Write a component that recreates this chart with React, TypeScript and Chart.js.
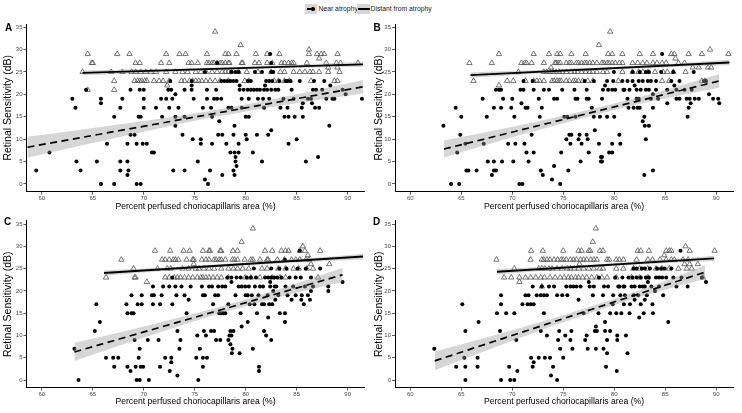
import React, { useEffect, useRef } from "react";
import { Chart, registerables } from "chart.js";
Chart.register(...registerables);

const FONT = "'Liberation Sans', Arial, sans-serif";

const xTickValues = [60, 65, 70, 75, 80, 85, 90];
const yTickValues = [0, 5, 10, 15, 20, 25, 30, 35];
const xRange = [58.5, 91.65];
const yRange = [-1.7, 35.7];

type Row = [number, number[]];
type Fit = { x: number[]; y: number[] };
type Band = { x: number[]; lo: number[]; hi: number[] };

// ---------- Panel A ----------
const nearA: Row[] = [
  [0, [65.8, 67.1, 69.3, 69.7, 76.3]],
  [1, [76.0]],
  [2, [68.4, 77.7, 78.9]],
  [3, [59.45, 63.8, 67.7, 68.5, 72.9, 74.0, 76.5, 78.8]],
  [4, [79.1]],
  [5, [63.4, 65.4, 67.7, 68.4, 75.3, 79.0, 81.6, 85.9]],
  [6, [79.0, 87.1]],
  [7, [60.75, 70.8, 71.0, 78.5, 78.9, 79.3, 80.7]],
  [9, [66.4, 68.4, 69.3, 69.9, 70.3, 75.6, 76.7, 78.1, 79.3, 84.2]],
  [10, [74.8, 75.6, 80.1, 85.0]],
  [11, [68.7, 69.1, 73.8, 77.3, 77.7, 78.8, 80.0, 81.1, 82.2]],
  [12, [82.5]],
  [13, [73.1, 78.9, 88.2]],
  [14, [77.4]],
  [15, [67.1, 69.5, 69.7, 71.8, 73.1, 74.0, 76.7, 80.0, 80.3, 83.8, 84.2, 84.8, 85.6]],
  [17, [63.3, 67.7, 70.0, 71.2, 72.5, 73.4, 75.8, 76.6, 78.3, 78.6, 79.6, 81.8, 83.4, 84.1, 85.5, 86.8, 87.2]],
  [18, [65.8, 85.6, 86.5]],
  [19, [63.0, 65.8, 67.9, 70.0, 71.7, 72.2, 72.8, 74.9, 76.2, 76.9, 77.2, 77.6, 79.6, 80.3, 81.2, 81.7, 82.3, 83.7, 84.7, 86.1, 86.4, 87.9, 88.5, 88.7, 91.4]],
  [20, [73.1, 89.8]],
  [21, [64.35, 68.7, 69.6, 70.0, 72.4, 72.7, 74.0, 74.7, 76.2, 77.1, 79.4, 79.8, 80.2, 80.5, 80.8, 81.1, 81.4, 81.8, 82.1, 82.5, 82.9, 83.2, 84.5, 86.6, 86.9, 87.5, 89.5]],
  [22, [74.7, 79.4, 81.9, 88.3]],
  [23, [72.6, 74.7, 77.6, 77.9, 78.2, 78.5, 78.8, 79.1, 80.2, 80.5, 82.0, 82.3, 82.6, 83.3, 83.9, 84.1, 84.4, 85.3, 86.7, 87.7]],
  [25, [76.0, 78.6, 79.0, 79.3, 80.9, 81.6, 82.5, 82.7]],
  [27, [77.2, 82.5]],
  [29, [82.4]],
];
const distantA: Row[] = [
  [34, [77.0]],
  [31, [79.5]],
  [30, [86.2]],
  [29, [64.5, 67.4, 68.6, 72.2, 73.5, 74.1, 76.2, 78.0, 78.3, 79.1, 81.0, 82.1, 83.3, 86.2, 87.0, 87.4, 87.7, 89.0]],
  [28, [87.2]],
  [27, [64.9, 65.0, 69.2, 69.6, 71.7, 72.5, 74.4, 74.7, 75.3, 76.2, 76.4, 76.7, 76.9, 77.2, 77.5, 77.7, 78.0, 78.3, 78.4, 79.6, 79.7, 80.9, 81.3, 82.1, 82.6, 83.5, 83.8, 84.2, 84.5, 84.7, 86.0, 87.9, 88.9, 89.3, 91.0]],
  [26, [88.1, 89.0]],
  [25, [64.0, 66.8, 67.9, 68.8, 69.2, 69.7, 70.2, 70.7, 71.2, 72.2, 73.1, 73.8, 74.3, 75.1, 75.6, 76.1, 76.7, 77.2, 77.7, 78.0, 78.3, 78.6, 79.3, 80.1, 81.2, 82.5, 83.4, 83.8, 84.7, 85.3, 85.8, 86.3, 86.6, 87.2, 88.1, 89.2]],
  [23, [67.1, 69.1, 69.4, 69.6, 69.8, 70.1, 70.3, 71.0, 71.5, 71.9, 72.5, 73.7, 74.0, 74.5, 74.8, 75.1, 75.4, 75.7, 76.1, 76.5, 77.0, 77.5, 78.3, 79.9, 80.3, 82.8, 83.2, 83.8, 84.3, 86.4, 88.7, 89.0]],
  [22, [72.3]],
  [21, [64.5, 67.1]],
];
const nearFitA: Fit = { x: [58.6, 91.5], y: [8.2, 21.7] };
const nearBandA: Band = {
  x: [58.6, 64, 70, 76, 81, 86, 91.5],
  lo: [5.85, 8.66, 11.67, 14.53, 16.58, 18.38, 20.19],
  hi: [10.55, 12.16, 14.07, 16.13, 18.18, 20.48, 23.19],
};
const distantFitA: Fit = { x: [64.0, 91.5], y: [24.8, 26.7] };
const distantBandA: Band = {
  x: [64, 71, 78, 85, 91.5],
  lo: [24.25, 24.9, 25.47, 25.87, 26.15],
  hi: [25.35, 25.66, 26.07, 26.63, 27.25],
};

// ---------- Panel B ----------
const nearB: Row[] = [
  [0, [64.0, 64.8, 70.7, 71.0, 74.7]],
  [1, [73.9]],
  [2, [68.0, 73.0, 82.95]],
  [3, [65.5, 65.7, 66.5, 68.2, 68.4, 72.8, 75.5, 83.8]],
  [4, [74.1]],
  [5, [67.6, 68.2, 69.0, 70.1, 71.6, 76.7, 78.7, 78.8]],
  [6, [78.7, 78.8]],
  [7, [64.6, 71.4, 72.1, 74.8, 77.5, 79.5, 79.8]],
  [9, [65.4, 67.2, 69.6, 70.3, 71.2, 75.7, 76.8, 78.5, 79.8, 80.6]],
  [10, [75.3, 76.5, 77.4, 83.1]],
  [11, [64.9, 71.9, 75.6, 75.8, 76.6, 77.3, 80.5]],
  [12, [78.1]],
  [13, [63.25, 83.0, 83.4]],
  [14, [82.8]],
  [15, [65.0, 67.5, 70.2, 72.7, 75.1, 75.4, 76.2, 78.0, 78.6, 79.3, 80.0, 82.95, 87.2]],
  [17, [64.45, 68.2, 68.9, 69.9, 71.3, 71.5, 72.9, 77.8, 81.4, 81.9, 82.3, 82.5, 83.8, 87.3]],
  [18, [70.9, 85.2, 87.5, 90.3]],
  [19, [67.1, 69.1, 70.0, 72.6, 74.1, 74.4, 76.2, 76.4, 77.3, 77.5, 78.8, 81.3, 82.2, 82.4, 83.6, 84.3, 86.1, 86.4, 87.1, 87.4, 87.9, 88.3, 89.7, 90.2]],
  [20, [83.8, 89.3]],
  [21, [68.4, 68.7, 68.9, 70.8, 71.1, 72.1, 73.1, 73.6, 74.9, 76.1, 77.3, 78.9, 79.4, 79.8, 80.1, 80.9, 81.0, 81.5, 82.2, 82.6, 83.1, 83.4, 84.1, 85.2, 86.1, 86.9, 87.6]],
  [22, [79.1, 82.0, 85.9]],
  [23, [71.1, 72.0, 77.1, 78.0, 79.3, 79.9, 80.8, 81.3, 81.8, 82.4, 82.8, 83.3, 83.6, 84.1, 85.6, 86.4, 88.8, 89.0]],
  [25, [79.97, 81.8, 82.5, 83.1, 83.4, 84.6, 85.8, 87.8]],
  [29, [84.7]],
];
const distantB: Row[] = [
  [34, [79.6]],
  [31, [78.5]],
  [30, [89.4]],
  [29, [68.7, 72.1, 73.6, 74.4, 74.7, 75.8, 77.2, 79.4, 79.8, 80.8, 82.5, 83.8, 85.6, 85.9, 87.3, 88.6, 91.2]],
  [28, [86.0]],
  [27, [65.8, 68.0, 70.9, 71.2, 71.4, 71.9, 73.1, 74.2, 74.3, 74.5, 74.7, 75.3, 75.6, 75.8, 76.3, 76.5, 76.8, 77.1, 77.3, 77.6, 77.9, 78.3, 78.8, 79.0, 79.3, 79.5, 79.8, 80.1, 80.5, 80.8, 81.8, 82.3, 82.8, 83.2, 83.8, 84.2, 84.7, 85.1, 86.3, 86.9]],
  [26, [73.8, 87.7, 88.3, 89.2, 89.5]],
  [25, [70.6, 73.1, 73.4, 73.7, 74.0, 74.3, 74.6, 74.9, 75.3, 75.8, 76.1, 76.4, 76.8, 77.2, 77.6, 77.9, 78.3, 78.9, 79.3, 80.8, 81.8, 82.4, 82.8, 83.3, 84.0, 84.8, 85.2, 85.8, 87.0]],
  [23, [66.2, 69.5, 70.1, 71.3, 72.1, 72.4, 72.7, 73.1, 73.9, 74.1, 74.4, 74.6, 74.8, 75.3, 75.6, 76.0, 76.2, 76.5, 76.9, 77.4, 77.9, 80.4, 84.7, 85.4, 88.6, 88.9]],
  [22, [68.7]],
];
const nearFitB: Fit = { x: [63.3, 90.3], y: [7.8, 23.0] };
const nearBandB: Band = {
  x: [63.3, 68, 73, 78, 83, 87, 90.3],
  lo: [5.9, 9.1, 12.31, 15.33, 18.1, 20.0, 21.45],
  hi: [9.7, 11.8, 14.21, 16.83, 19.7, 22.3, 24.55],
};
const distantFitB: Fit = { x: [65.9, 91.3], y: [24.3, 27.1] };
const distantBandB: Band = {
  x: [65.9, 72, 79, 86, 91.3],
  lo: [23.7, 24.57, 25.44, 26.11, 26.5],
  hi: [24.9, 25.37, 26.04, 26.91, 27.7],
};

// ---------- Panel C ----------
const nearC: Row[] = [
  [0, [63.6, 69.3, 69.6, 70.5, 75.35]],
  [1, [73.3]],
  [2, [68.7, 72.55, 81.3]],
  [3, [67.1, 68.4, 69.2, 69.7, 69.95, 71.6, 75.8, 81.3]],
  [4, [72.7]],
  [5, [66.3, 67.0, 67.5, 69.5, 72.1, 72.7, 75.15, 75.8, 76.2]],
  [6, [78.65, 79.4]],
  [7, [63.2, 69.6, 73.5, 75.5, 78.7, 80.7]],
  [8, [78.5]],
  [9, [69.1, 70.4, 71.45, 73.6, 77.1, 77.5, 78.3, 82.5]],
  [10, [75.25, 76.1, 78.4, 78.6, 82.0]],
  [11, [65.2, 73.3, 75.9, 76.6, 76.9, 78.5, 78.8, 81.8]],
  [12, [79.6]],
  [13, [65.7, 80.2, 83.85]],
  [14, [82.2]],
  [15, [68.4, 68.8, 69.0, 74.2, 77.4, 77.6, 77.8, 78.0, 79.5, 81.1, 83.35, 83.85]],
  [17, [65.35, 68.3, 69.4, 69.8, 70.9, 71.6, 72.8, 76.8, 78.3, 80.4, 80.85, 81.6, 81.8, 82.3, 82.6, 85.7]],
  [18, [74.4, 82.9, 84.5, 85.45, 86.3]],
  [19, [68.8, 69.8, 70.8, 71.0, 71.75, 73.2, 74.0, 75.8, 76.0, 77.0, 77.3, 79.0, 80.0, 80.2, 80.6, 81.25, 82.15, 83.2, 84.1, 84.9, 85.5, 86.1]],
  [20, [82.7, 86.4, 88.1]],
  [21, [70.9, 71.9, 72.5, 73.1, 73.7, 74.6, 75.7, 76.4, 76.7, 77.3, 77.7, 78.0, 79.3, 79.6, 79.95, 80.3, 80.9, 81.4, 81.7, 82.4, 82.85, 83.0, 83.9, 84.65, 85.8, 86.6, 88.1]],
  [22, [78.6, 82.4, 89.5]],
  [23, [72.8, 78.2, 78.6, 79.1, 79.5, 80.1, 80.5, 81.0, 81.9, 82.2, 82.5, 82.8, 83.1, 83.5, 84.3, 84.9, 85.4, 86.4]],
  [25, [80.8, 82.5, 83.3, 84.0, 85.1, 85.9, 87.3]],
  [27, [83.85]],
  [29, [85.3]],
];
const distantC: Row[] = [
  [34, [80.7]],
  [31, [79.6]],
  [30, [85.6]],
  [29, [71.1, 72.6, 73.9, 74.5, 75.8, 76.4, 76.5, 77.5, 77.6, 78.75, 79.2, 81.9, 82.6, 83.5, 83.9, 84.2, 85.3, 85.8, 87.3]],
  [28, [86.1]],
  [27, [67.8, 71.8, 72.1, 72.5, 72.9, 73.1, 73.4, 74.2, 74.8, 74.9, 75.7, 76.1, 76.4, 76.9, 77.1, 77.4, 77.6, 78.0, 78.7, 78.9, 79.2, 79.9, 80.5, 80.7, 81.4, 82.1, 82.2, 83.1, 83.8, 84.5, 84.9, 85.3, 85.9, 86.2]],
  [26, [74.9, 86.4, 88.2]],
  [25, [69.0, 71.35, 72.3, 72.65, 73.8, 74.4, 75.1, 75.4, 75.9, 76.4, 76.9, 77.6, 78.3, 78.8, 79.2, 79.7, 80.3, 81.6, 82.1, 83.2, 83.9, 84.7, 85.2, 86.0, 86.6]],
  [23, [66.3, 69.1, 69.2, 72.1, 72.5, 73.0, 73.3, 73.6, 74.0, 74.4, 74.8, 75.25, 75.6, 75.8, 76.1, 76.4, 76.8, 77.2, 77.6, 78.3, 79.95, 80.5, 81.4, 82.6, 83.35, 83.9, 87.1]],
  [22, [70.3]],
];
const nearFitC: Fit = { x: [63.2, 89.5], y: [6.3, 23.6] };
const nearBandC: Band = {
  x: [63.2, 68, 73, 78, 83, 86.5, 89.5],
  lo: [4.25, 8.01, 11.75, 15.29, 18.48, 20.43, 22.0],
  hi: [8.35, 10.91, 13.75, 16.79, 20.18, 22.83, 25.2],
};
const distantFitC: Fit = { x: [66.1, 91.5], y: [24.0, 27.7] };
const distantBandC: Band = {
  x: [66.1, 72, 79, 86, 91.5],
  lo: [23.4, 24.46, 25.58, 26.5, 27.05],
  hi: [24.6, 25.26, 26.18, 27.3, 28.35],
};

// ---------- Panel D ----------
const nearD: Row[] = [
  [0, [65.4, 68.9, 69.8, 70.2, 74.4]],
  [1, [73.8]],
  [2, [70.5, 80.25]],
  [3, [64.5, 65.4, 66.6, 69.7, 72.0, 74.0, 79.2]],
  [4, [72.1]],
  [5, [65.3, 66.6, 71.85, 72.6, 73.2, 73.7, 75.0]],
  [6, [79.3, 81.3]],
  [7, [62.35, 74.7, 75.9, 77.4, 78.2, 78.95]],
  [9, [70.4, 74.5, 75.7, 77.15, 79.3, 80.3]],
  [10, [73.4, 75.2, 77.3, 80.3, 81.15]],
  [11, [65.4, 68.8, 72.8, 74.6, 75.8, 78.1, 78.3, 79.1, 79.6]],
  [12, [78.2]],
  [13, [66.7, 79.1, 85.3]],
  [14, [82.45]],
  [15, [68.5, 69.4, 70.2, 73.1, 77.0, 78.45, 79.6, 80.2, 80.7, 81.5, 82.9, 83.8]],
  [17, [65.1, 68.9, 71.0, 71.5, 71.8, 72.1, 79.85, 80.95, 81.55, 82.6, 83.75]],
  [18, [76.5, 82.0, 83.0]],
  [19, [68.9, 71.3, 71.6, 72.4, 72.8, 73.1, 73.4, 74.4, 74.9, 75.4, 77.9, 78.9, 79.9, 80.6, 81.05, 81.9, 82.35, 83.2, 84.8]],
  [20, [84.0]],
  [21, [72.0, 72.9, 73.6, 74.1, 75.3, 75.7, 76.0, 76.3, 76.7, 77.6, 78.0, 79.0, 79.4, 80.4, 80.5, 80.9, 81.0, 81.7, 82.0, 82.5, 82.8, 83.0, 83.65, 84.4, 86.1, 87.2]],
  [22, [77.5, 83.3, 89.0]],
  [23, [78.5, 80.1, 80.8, 81.4, 81.8, 82.2, 82.6, 83.1, 83.4, 84.1, 84.4, 84.7, 85.1, 85.8, 86.6, 88.6]],
  [25, [81.9, 82.2, 82.7, 83.0, 83.5, 84.2, 84.6, 84.95, 85.6]],
  [29, [86.5]],
];
const distantD: Row[] = [
  [34, [78.2]],
  [31, [77.9]],
  [30, [87.0]],
  [29, [71.85, 73.0, 75.0, 76.5, 76.8, 77.5, 77.65, 78.6, 78.9, 82.3, 82.6, 83.4, 85.1, 85.4, 85.6, 87.4, 89.85]],
  [28, [84.9]],
  [27, [68.45, 71.8, 72.9, 73.1, 73.4, 73.7, 74.1, 74.45, 74.8, 75.0, 75.3, 75.7, 76.0, 76.3, 76.7, 77.0, 77.3, 77.7, 78.0, 78.3, 79.3, 79.5, 80.2, 80.5, 80.9, 82.2, 83.3, 83.75, 84.5, 85.1, 85.6, 85.9, 86.75, 87.25]],
  [26, [76.6, 86.9, 87.4, 88.2]],
  [25, [70.2, 72.6, 72.9, 73.2, 73.6, 73.9, 74.4, 74.9, 75.4, 75.7, 76.1, 76.5, 77.0, 77.5, 78.0, 78.6, 78.9, 80.2, 80.9, 81.9, 82.5, 83.3, 84.1, 84.7, 85.4, 86.3, 87.1, 87.6]],
  [23, [69.2, 69.9, 70.7, 71.3, 71.8, 72.3, 72.8, 73.15, 73.7, 74.2, 74.7, 75.1, 75.5, 75.8, 76.2, 76.5, 76.9, 77.3, 77.8, 78.3, 78.8, 79.3, 80.2, 81.7, 82.5, 83.3, 88.7]],
  [22, [70.7]],
  [21, [72.9]],
];
const nearFitD: Fit = { x: [62.4, 88.9], y: [4.3, 24.2] };
const nearBandD: Band = {
  x: [62.4, 67, 72, 77, 82, 86, 88.9],
  lo: [2.2, 6.25, 10.51, 14.51, 18.27, 20.92, 22.65],
  hi: [6.4, 9.25, 12.51, 16.01, 19.77, 23.12, 25.75],
};
const distantFitD: Fit = { x: [68.5, 89.8], y: [24.3, 27.3] };
const distantBandD: Band = {
  x: [68.5, 74, 79, 85, 89.8],
  lo: [23.7, 24.67, 25.48, 26.22, 26.7],
  hi: [24.9, 25.47, 26.08, 27.02, 27.9],
};

const rowsToPts = (rows: Row[]) => rows.flatMap(([y, xs]) => xs.map((x) => ({ x, y })));
const fitPts = (f: Fit) => f.x.map((x, i) => ({ x, y: f.y[i] }));
const bandPts = (b: Band, key: "lo" | "hi") => b.x.map((x, i) => ({ x, y: b[key][i] }));

const BAND_FILL = "rgba(153,153,153,0.4)";

type Box = { left: number; top: number; width: number; height: number };
type Area = { left: number; right: number; top: number; bottom: number };

interface PanelProps {
  near: Row[];
  distant: Row[];
  nearFit: Fit;
  nearBand: Band;
  distantFit: Fit;
  distantBand: Band;
  box: Box;
  area: Area;
  titleCenterY: number;
}

function Panel(p: PanelProps) {
  const ref = useRef<HTMLCanvasElement | null>(null);
  useEffect(() => {
    const canvas = ref.current;
    if (!canvas) return;
    const { box, area } = p;
    const yWidth = area.left - box.left;
    const xHeight = box.top + box.height - area.bottom;
    const xTitleSize = 8.6;
    const xTitlePadBottom = box.top + box.height - p.titleCenterY - (xTitleSize * 1.2) / 2;
    const bandLine = {
      type: "line" as const,
      showLine: true,
      pointRadius: 0,
      borderWidth: 0,
      borderColor: "rgba(0,0,0,0)",
      cubicInterpolationMode: "monotone" as const,
      order: 1,
    };
    const chart = new Chart(canvas, {
      type: "scatter",
      data: {
        datasets: [
          {
            type: "line",
            label: "Near atrophy fit",
            data: fitPts(p.nearFit),
            showLine: true,
            borderColor: "#000",
            borderWidth: 1.7,
            borderDash: [7, 4.5],
            pointRadius: 0,
            fill: false,
            order: 0,
          },
          {
            type: "line",
            label: "Distant fit",
            data: fitPts(p.distantFit),
            showLine: true,
            borderColor: "#000",
            borderWidth: 1.9,
            pointRadius: 0,
            fill: false,
            order: 0,
          },
          { ...bandLine, label: "nlo", data: bandPts(p.nearBand, "lo"), fill: false },
          { ...bandLine, label: "nhi", data: bandPts(p.nearBand, "hi"), fill: "-1", backgroundColor: BAND_FILL },
          { ...bandLine, label: "dlo", data: bandPts(p.distantBand, "lo"), fill: false },
          { ...bandLine, label: "dhi", data: bandPts(p.distantBand, "hi"), fill: "-1", backgroundColor: BAND_FILL },
          {
            type: "scatter",
            label: "Near atrophy",
            data: rowsToPts(p.near),
            pointRadius: 2,
            pointBackgroundColor: "#000",
            pointBorderWidth: 0,
            pointBorderColor: "#000",
            order: 2,
          },
          {
            type: "scatter",
            label: "Distant from atrophy",
            data: rowsToPts(p.distant),
            pointStyle: "triangle",
            pointRadius: 3.1,
            pointBackgroundColor: "rgba(0,0,0,0)",
            pointBorderColor: "#555",
            pointBorderWidth: 0.8,
            order: 3,
          },
        ] as any,
      },
      options: {
        responsive: false,
        animation: false,
        devicePixelRatio: 1,
        events: [],
        layout: {
          padding: {
            left: 0,
            top: area.top - box.top,
            right: box.left + box.width - area.right,
            bottom: 0,
          },
        },
        plugins: { legend: { display: false }, tooltip: { enabled: false } },
        scales: {
          x: {
            type: "linear",
            min: xRange[0],
            max: xRange[1],
            afterBuildTicks: (s: any) => {
              s.ticks = xTickValues.map((v) => ({ value: v }));
            },
            afterFit: (s: any) => {
              s.height = xHeight;
            },
            grid: { drawOnChartArea: false, drawTicks: true, tickLength: 3, color: "#333", lineWidth: 0.8 },
            border: { display: true, color: "#000", width: 1 },
            ticks: { font: { family: FONT, size: 6 }, color: "#4d4d4d", padding: 0, maxRotation: 0 },
            title: {
              display: true,
              text: "Percent perfused choriocapillaris area (%)",
              font: { family: FONT, size: xTitleSize },
              color: "#000",
              padding: { top: 0, bottom: xTitlePadBottom },
            },
          },
          y: {
            type: "linear",
            min: yRange[0],
            max: yRange[1],
            afterBuildTicks: (s: any) => {
              s.ticks = yTickValues.map((v) => ({ value: v }));
            },
            afterFit: (s: any) => {
              s.width = yWidth;
            },
            grid: { drawOnChartArea: false, drawTicks: true, tickLength: 3, color: "#333", lineWidth: 0.8 },
            border: { display: true, color: "#000", width: 1 },
            ticks: { font: { family: FONT, size: 6 }, color: "#4d4d4d", padding: 1 },
            title: {
              display: true,
              text: "Retinal Sensitivity (dB)",
              font: { family: FONT, size: 10.5 },
              color: "#000",
              padding: { top: 1.5, bottom: 0 },
            },
          },
        },
      } as any,
    });
    return () => chart.destroy();
  }, []);
  const { box } = p;
  return (
    <canvas
      ref={ref}
      width={box.width}
      height={box.height}
      style={{ position: "absolute", left: box.left, top: box.top, width: box.width, height: box.height }}
    />
  );
}

const labelStyle = (left: number, top: number): React.CSSProperties => ({
  position: "absolute",
  left,
  top,
  fontFamily: FONT,
  fontWeight: "bold",
  fontSize: 10,
  lineHeight: "10px",
  color: "#000",
});

const legendText = (left: number): React.CSSProperties => ({
  position: "absolute",
  left,
  top: 4,
  fontFamily: FONT,
  fontSize: 6.8,
  lineHeight: "10px",
  color: "#1a1a1a",
  whiteSpace: "nowrap",
});

export default function App() {
  return (
    <div
      style={{
        position: "fixed",
        left: 0,
        top: 0,
        width: 742,
        height: 413,
        background: "#fff",
        overflow: "hidden",
      }}
    >
      {/* legend */}
      <div style={{ position: "absolute", left: 305, top: 4, width: 12, height: 10, background: "#d6d6d6" }}>
        <div style={{ position: "absolute", left: 1.5, top: 4.2, width: 4, height: 1.6, background: "#000" }} />
        <div style={{ position: "absolute", left: 6, top: 3.2, width: 3.6, height: 3.6, borderRadius: "50%", background: "#000" }} />
      </div>
      <div style={legendText(318.5)}>Near atrophy</div>
      <div style={{ position: "absolute", left: 357, top: 4, width: 13, height: 10, background: "#d6d6d6" }}>
        <div style={{ position: "absolute", left: 0.5, top: 4.1, width: 12, height: 1.8, background: "#000" }} />
      </div>
      <div style={legendText(370.5)}>Distant from atrophy</div>

      <Panel
        near={nearA}
        distant={distantA}
        nearFit={nearFitA}
        nearBand={nearBandA}
        distantFit={distantFitA}
        distantBand={distantBandA}
        box={{ left: 0, top: 0, width: 371, height: 213 }}
        area={{ left: 26.5, right: 364.5, top: 24, bottom: 191.6 }}
        titleCenterY={206.5}
      />
      <Panel
        near={nearB}
        distant={distantB}
        nearFit={nearFitB}
        nearBand={nearBandB}
        distantFit={distantFitB}
        distantBand={distantBandB}
        box={{ left: 371, top: 0, width: 371, height: 213 }}
        area={{ left: 395, right: 733, top: 24, bottom: 191.6 }}
        titleCenterY={206.5}
      />
      <Panel
        near={nearC}
        distant={distantC}
        nearFit={nearFitC}
        nearBand={nearBandC}
        distantFit={distantFitC}
        distantBand={distantBandC}
        box={{ left: 0, top: 213, width: 371, height: 200 }}
        area={{ left: 26.5, right: 364.5, top: 220.9, bottom: 387.6 }}
        titleCenterY={401.7}
      />
      <Panel
        near={nearD}
        distant={distantD}
        nearFit={nearFitD}
        nearBand={nearBandD}
        distantFit={distantFitD}
        distantBand={distantBandD}
        box={{ left: 371, top: 213, width: 371, height: 200 }}
        area={{ left: 395, right: 733, top: 220.9, bottom: 387.6 }}
        titleCenterY={401.7}
      />

      <div style={labelStyle(5, 23)}>A</div>
      <div style={labelStyle(373.5, 23)}>B</div>
      <div style={labelStyle(4, 217)}>C</div>
      <div style={labelStyle(373, 217)}>D</div>
    </div>
  );
}
